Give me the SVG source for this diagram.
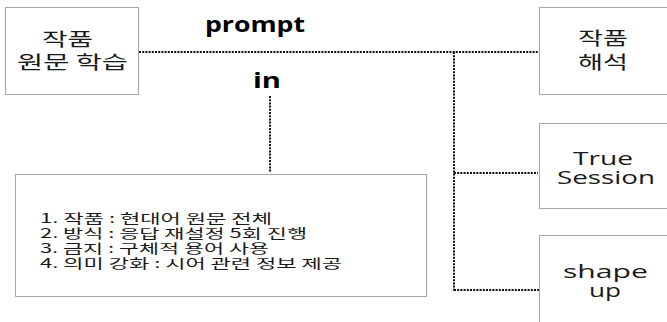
<svg xmlns="http://www.w3.org/2000/svg" width="667" height="322" viewBox="0 0 667 322">
<style>
.box{fill:#fff;stroke:#a6a6a6;stroke-width:1}
.t{font-family:"Open Sans","Noto Sans CJK KR",sans-serif;fill:#1a1a1a}
.k{font-family:"Noto Sans CJK KR","Open Sans",sans-serif;fill:#1a1a1a}
.lbl{font-family:"Open Sans","Noto Sans",sans-serif;font-weight:bold;fill:#000}
.dot{stroke:#111;stroke-width:2;stroke-dasharray:2 1.2;fill:none}
</style>
<rect width="667" height="322" fill="#fff"/>
<g id="connectors">
<line class="dot" x1="139" y1="52" x2="538" y2="52"/>
<line class="dot" x1="454" y1="52" x2="454" y2="291"/>
<line class="dot" x1="454" y1="173" x2="538" y2="173"/>
<line class="dot" x1="454" y1="290" x2="539" y2="290"/>
<line class="dot" x1="270" y1="96" x2="270" y2="172"/>
<text class="lbl" x="205" y="32" font-size="22" textLength="100" lengthAdjust="spacingAndGlyphs">prompt</text>
<text class="lbl" x="253" y="88" font-size="22" textLength="28" lengthAdjust="spacingAndGlyphs">in</text>
</g>
<g id="node-source">
<rect class="box" x="5.5" y="7.5" width="133" height="87"/>
<text class="k" x="42" y="46" font-size="18" textLength="51" lengthAdjust="spacingAndGlyphs">작품</text>
<text class="k" x="17" y="69" font-size="18" textLength="111" lengthAdjust="spacingAndGlyphs">원문 학습</text>
</g>
<g id="node-interpret">
<rect class="box" x="539.5" y="7.5" width="140" height="87"/>
<text class="k" x="578" y="45" font-size="18" textLength="50" lengthAdjust="spacingAndGlyphs">작품</text>
<text class="k" x="578" y="69" font-size="18" textLength="50" lengthAdjust="spacingAndGlyphs">해석</text>
</g>
<g id="node-true-session">
<rect class="box" x="539.5" y="123.5" width="140" height="85"/>
<text class="t" x="573" y="165" font-size="18" textLength="60" lengthAdjust="spacingAndGlyphs">True</text>
<text class="t" x="557" y="184" font-size="18" textLength="98" lengthAdjust="spacingAndGlyphs">Session</text>
</g>
<g id="node-shape-up">
<rect class="box" x="539.5" y="235.5" width="140" height="100"/>
<text class="t" x="563" y="278" font-size="18" textLength="85" lengthAdjust="spacingAndGlyphs">shape</text>
<text class="t" x="589" y="297" font-size="18" textLength="32" lengthAdjust="spacingAndGlyphs">up</text>
</g>
<g id="node-rules">
<rect class="box" x="15.5" y="174.5" width="411" height="122"/>
<text class="k" x="40" y="223" font-size="13" textLength="232" lengthAdjust="spacingAndGlyphs">1. 작품 : 현대어 원문 전체</text>
<text class="k" x="40" y="238" font-size="13" textLength="267" lengthAdjust="spacingAndGlyphs">2. 방식 : 응답 재설정 5회 진행</text>
<text class="k" x="40" y="253" font-size="13" textLength="229" lengthAdjust="spacingAndGlyphs">3. 금지 : 구체적 용어 사용</text>
<text class="k" x="40" y="268" font-size="13" textLength="302" lengthAdjust="spacingAndGlyphs">4. 의미 강화 : 시어 관련 정보 제공</text>
</g>
</svg>
